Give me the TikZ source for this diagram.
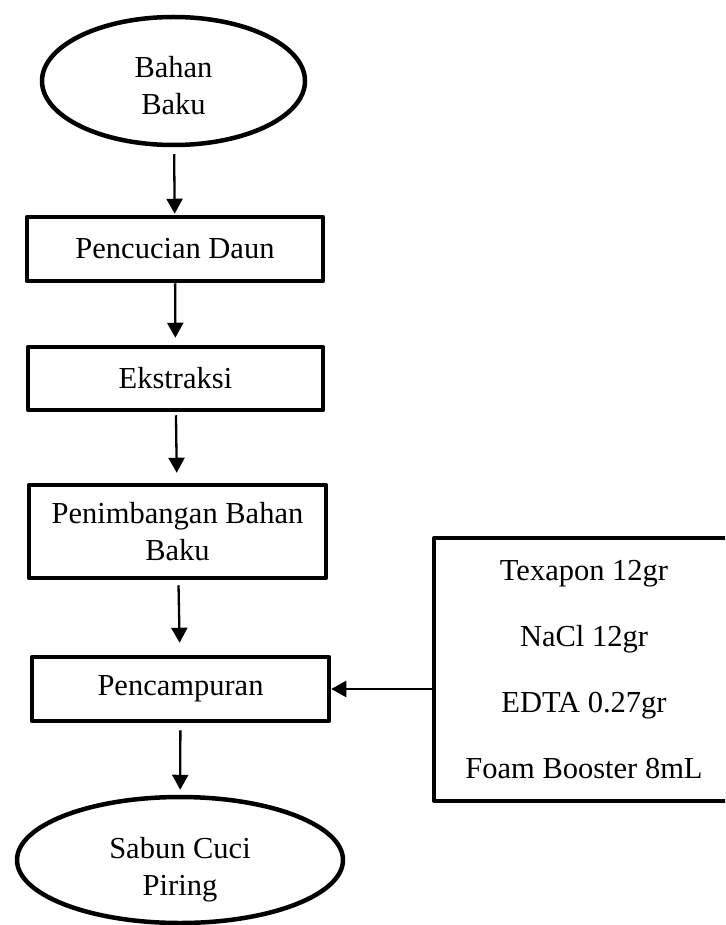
\documentclass[tikz,border=0pt]{standalone}
\usepackage{fontspec}
\setmainfont{Liberation Serif}
\usetikzlibrary{shapes.geometric,arrows.meta}

\begin{document}
\begin{tikzpicture}[x=1pt,y=-1pt,line join=round,
	every node/.style={font=\fontsize{30.5}{37}\selectfont},
	procbox/.style={draw,line width=4.5pt,rectangle,minimum width=296pt,minimum height=64pt,align=center,inner sep=0pt},
	endell/.style={draw,line width=4.5pt,ellipse,inner sep=0pt},
	flowarrow/.style={line width=2.3pt,-{Triangle[width=16pt,length=15pt]},shorten <=5pt,shorten >=6pt}]
			\useasboundingbox (0,0) rectangle (725,925);
			\clip (0,0) rectangle (725,925);
			\node[endell,minimum width=263pt,minimum height=128pt,
				label={[align=center,yshift=-5pt]center:Bahan\\Baku}] (bahan) at (173.5,81) {};
			\node[procbox] (cuci) at (175,249) {Pencucian Daun};
			\node[procbox,minimum width=295pt,minimum height=63pt] (ekstrak) at (175.5,378.5) {Ekstraksi};
			\node[procbox,minimum width=297pt,minimum height=93pt] (timbang) at (177.5,531.5) {Penimbangan Bahan\\Baku};
			\node[procbox,minimum width=297pt] (campur) at (180.5,689) {Pencampuran};
			\node[endell,minimum width=326pt,minimum height=126pt,
				label={[align=center,yshift=-10pt]center:Sabun Cuci\\Piring}] (sabun) at (180,860) {};
			\node[procbox,line width=4pt,minimum width=300pt,minimum height=263pt] (bahanlain) at (584,669.5)
				{Texapon 12gr\\[29pt]NaCl 12gr\\[29pt]EDTA 0.27gr\\[29pt]Foam Booster 8mL};
			\draw[flowarrow,shorten <=7pt,shorten >=1pt] (bahan) -- (cuci);
			\draw[flowarrow,shorten <=0pt,shorten >=7pt] (cuci) -- (ekstrak);
			\draw[flowarrow,shorten <=3pt,shorten >=10pt] (ekstrak) -- (timbang);
			\draw[flowarrow,shorten <=5pt,shorten >=12pt] (timbang) -- (campur);
			\draw[flowarrow,shorten <=7pt,shorten >=5pt] (campur) -- (sabun);
			\draw[flowarrow,shorten <=0pt,shorten >=0pt] (bahanlain.west |- campur.east) -- (campur.east);
		\end{tikzpicture}
\end{document}
